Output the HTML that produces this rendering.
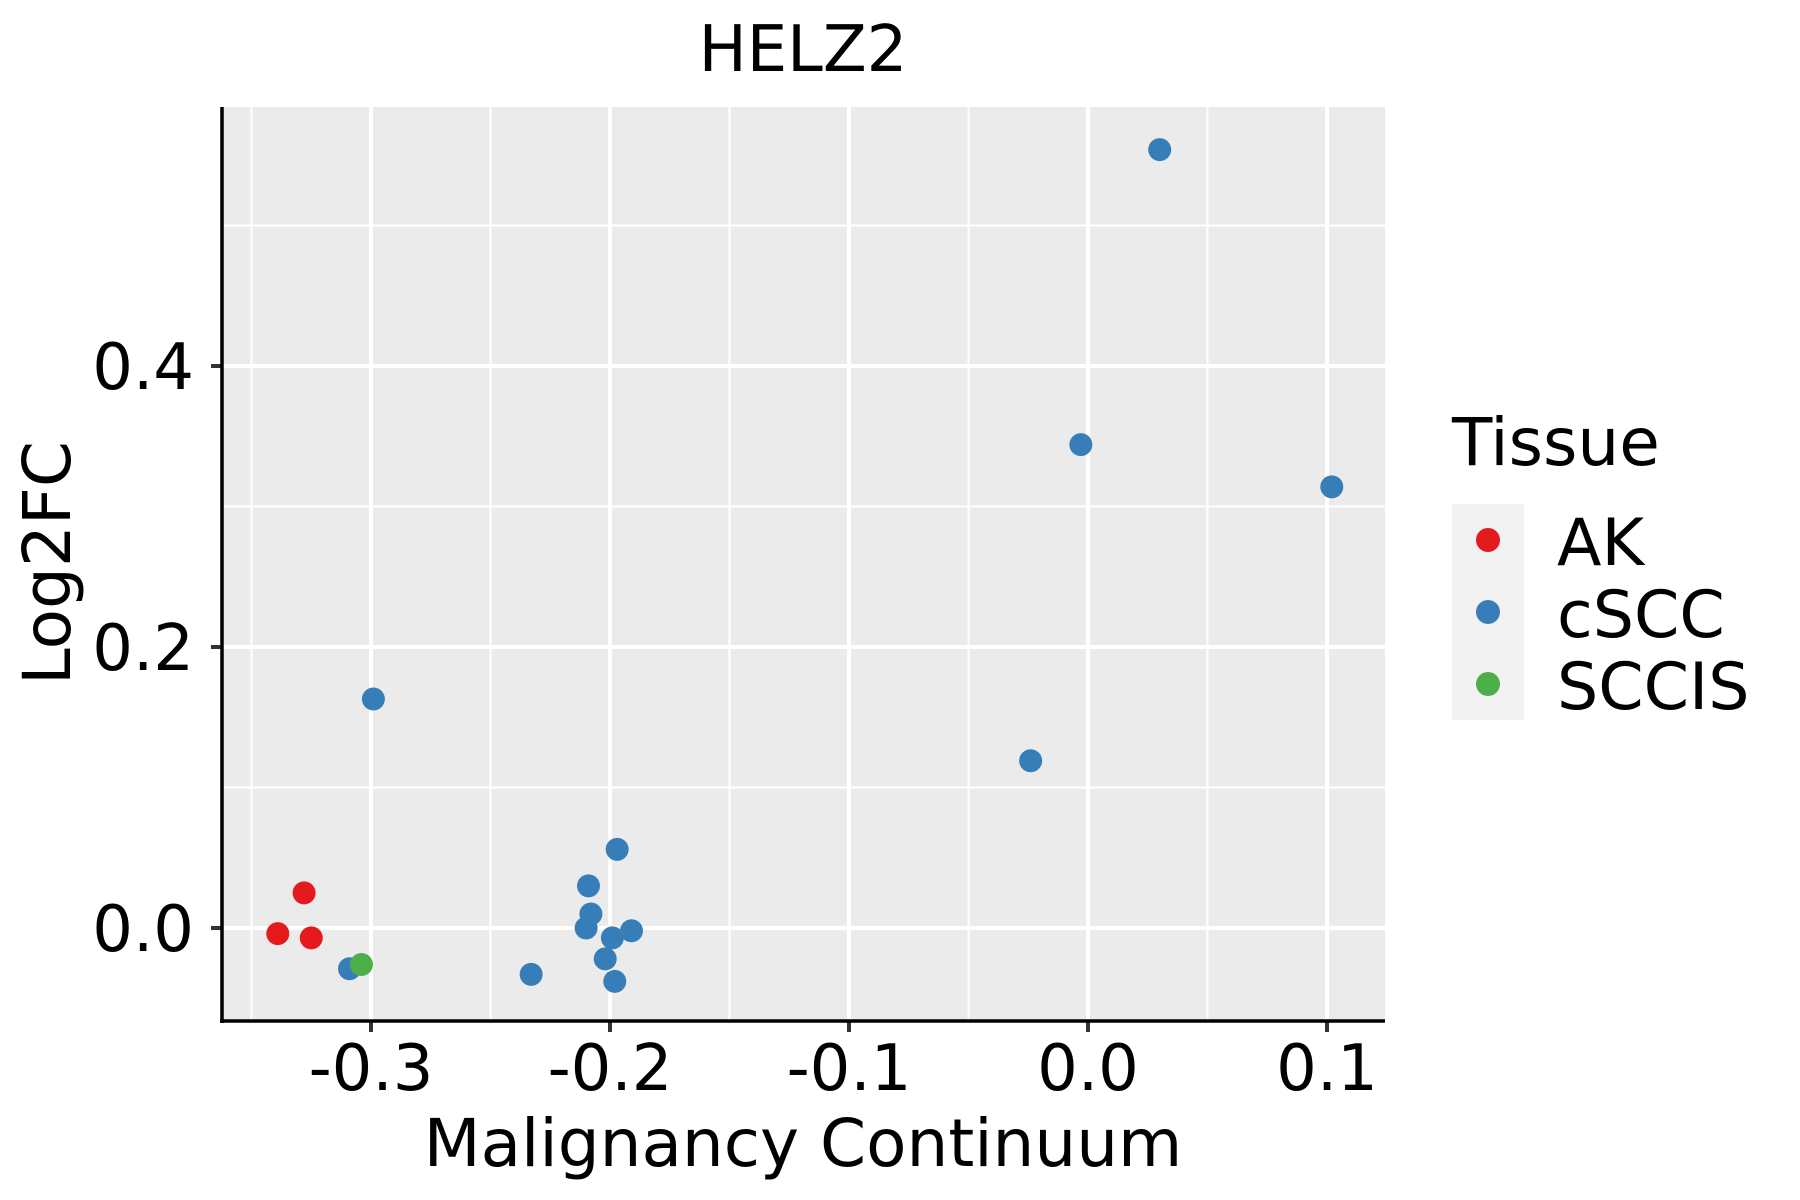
<!DOCTYPE html>
<html><head><meta charset="utf-8"><style>html,body{margin:0;padding:0;background:#fff}svg{display:block}text{font-family:"DejaVu Sans","Liberation Sans",sans-serif}</style></head>
<body>
<svg id="chart" width="1800" height="1200" viewBox="0 0 1800 1200" xmlns="http://www.w3.org/2000/svg">
<g id="grid"></g><g id="pts"></g><g id="axes"></g><g id="legend"></g>
</svg>
<script>
const xTicks=[-0.3,-0.2,-0.1,0.0,0.1];
const xTickLabels=["-0.3","-0.2","-0.1","0.0","0.1"];
const yTicks=[0.0,0.2,0.4];
const yTickLabels=["0.0","0.2","0.4"];
const xMinor=[-0.35,-0.25,-0.15,-0.05,0.05];
const yMinor=[0.1,0.3,0.5];
const groups=["AK","cSCC","SCCIS"];
const colors=["#E41A1C","#377EB8","#4DAF4A"];
const akX=[-0.339,-0.328,-0.325];
const akY=[-0.004,0.025,-0.007];
const csccX=[-0.309,-0.299,-0.233,-0.210,-0.209,-0.208,-0.202,-0.199,-0.198,-0.197,-0.191,-0.024,-0.003,0.030,0.102];
const csccY=[-0.029,0.163,-0.033,0.000,0.030,0.010,-0.022,-0.007,-0.038,0.056,-0.002,0.119,0.344,0.554,0.314];
const sccisX=[-0.304];
const sccisY=[-0.026];
const NS="http://www.w3.org/2000/svg";
const L=222,R=1385,T=107,B=1021;
const xs=v=>1088+v*2390;
const ys=v=>928-v*1405;
function mk(tag,attrs,parent){const e=document.createElementNS(NS,tag);for(const k in attrs)e.setAttribute(k,attrs[k]);parent.appendChild(e);return e;}
const grid=document.getElementById('grid'),pts=document.getElementById('pts'),axes=document.getElementById('axes'),leg=document.getElementById('legend');
let r=mk('rect',{x:L,y:T,width:R-L,height:B-T,fill:'#EBEBEB'},grid);


xMinor.forEach(v=>{const l=mk('line',{x1:xs(v),x2:xs(v),y1:T,y2:B,stroke:'#fff','stroke-width':2},grid);

});
yMinor.forEach(v=>{const l=mk('line',{x1:L,x2:R,y1:ys(v),y2:ys(v),stroke:'#fff','stroke-width':2},grid);

});
xTicks.forEach((v,i)=>{const l=mk('line',{x1:xs(v),x2:xs(v),y1:T,y2:B,stroke:'#fff','stroke-width':4},grid);


const t=mk('line',{x1:xs(v),x2:xs(v),y1:B,y2:B+11,stroke:'#333','stroke-width':4},axes);


const tx=mk('text',{x:xs(v),y:1090,'font-size':64,'text-anchor':'middle',fill:'#000'},axes);tx.textContent=xTickLabels[i];

});
yTicks.forEach((v,i)=>{const l=mk('line',{x1:L,x2:R,y1:ys(v),y2:ys(v),stroke:'#fff','stroke-width':4},grid);


const t=mk('line',{x1:L-11,x2:L,y1:ys(v),y2:ys(v),stroke:'#333','stroke-width':4},axes);


const tx=mk('text',{x:194,y:ys(v)+23,'font-size':64,'text-anchor':'end',fill:'#000'},axes);tx.textContent=yTickLabels[i];

});
const series=[[akX,akY],[csccX,csccY],[sccisX,sccisY]];
series.forEach((s,g)=>{s[0].forEach((xv,i)=>{const c=mk('circle',{cx:xs(xv),cy:ys(s[1][i]),r:11.5,fill:colors[g]},pts);

});});
let a=mk('line',{x1:L,x2:L,y1:T,y2:B+2,stroke:'#000','stroke-width':3.5},axes);


a=mk('line',{x1:L-2,x2:R,y1:B,y2:B,stroke:'#000','stroke-width':3.5},axes);


let t=mk('text',{x:803,y:71,'font-size':64,'text-anchor':'middle',fill:'#000'},axes);t.textContent='HELZ2';


t=mk('text',{x:803,y:1166,'font-size':66,'text-anchor':'middle',fill:'#000'},axes);t.textContent='Malignancy Continuum';


t=mk('text',{x:0,y:0,'font-size':66,'text-anchor':'middle',fill:'#000',transform:'translate(70,563) rotate(-90)'},axes);t.textContent='Log2FC';


t=mk('text',{x:1452,y:465,'font-size':66,fill:'#000'},leg);t.textContent='Tissue';


r=mk('rect',{x:1452,y:504,width:72,height:216,fill:'#F2F2F2'},leg);


groups.forEach((g,i)=>{const c=mk('circle',{cx:1488,cy:540+72*i,r:12,fill:colors[i]},leg);


const tx=mk('text',{x:1557,y:565+72*i,'font-size':65,fill:'#000'},leg);tx.textContent=g;

});
</script>
</body></html>
